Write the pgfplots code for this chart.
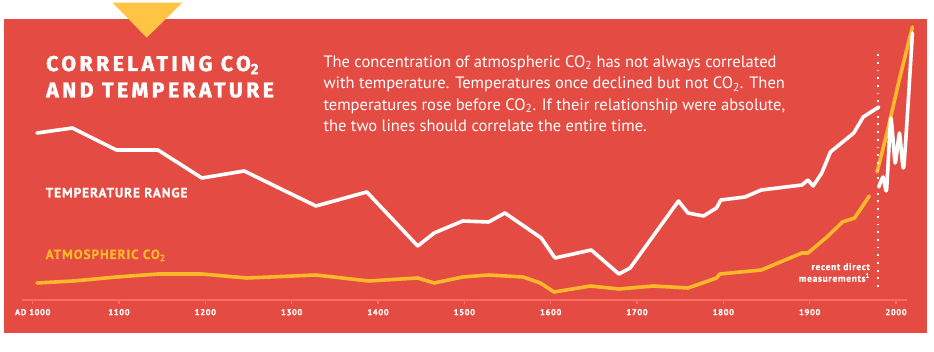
\documentclass[border=0pt]{standalone}
\usepackage{fontspec}
\setmainfont{PT Sans}
\newfontfamily\titlefont{Fira Sans}[LetterSpace=16, FakeBold=1.8]
\newfontfamily\lblfont{PT Sans}[LetterSpace=7, FakeBold=0.8]
\usepackage{pgfplots}
\pgfplotsset{compat=1.18}
\definecolor{bgred}{HTML}{E44C43}
\definecolor{tri}{HTML}{FFC444}
\definecolor{co2}{HTML}{FDB72B}
\definecolor{axred}{HTML}{FF6A62}
\begin{document}
\begin{tikzpicture}[x=1pt,y=1pt]
\fill[white] (0,0) rectangle (934,352);
\fill[bgred] (4,19) rectangle (927,333);
\fill[tri] (112.7,349.3) -- (182.3,349.3) -- (146.7,314.3) -- cycle;
% title
\node[anchor=base west, inner sep=0, text=white, font=\titlefont\bfseries\fontsize{21.3}{26}\selectfont] at (46,281) {CORRELATING CO\textsubscript{2}};
\node[anchor=base west, inner sep=0, text=white, font=\titlefont\bfseries\fontsize{21.3}{26}\selectfont] at (46,254.7) {AND TEMPERATURE};
% body text
\begin{scope}[every node/.style={anchor=base west, inner sep=0, text=white, font=\fontsize{16.5}{21}\selectfont}]
\node at (323.3,284.7) {The concentration of atmospheric CO\textsubscript{2} has not always correlated};
\node at (323.3,263.2) {with temperature. Temperatures once declined but not CO\textsubscript{2}. Then};
\node at (323.3,241.7) {temperatures rose before CO\textsubscript{2}. If their relationship were absolute,};
\node at (323.3,220.2) {the two lines should correlate the entire time.};
\end{scope}
% series labels
\node[anchor=base west, inner sep=0, text=white, font=\lblfont\bfseries\fontsize{13.3}{15}\selectfont] at (45.5,154.7) {TEMPERATURE RANGE};
\node[anchor=base west, inner sep=0, text=co2, font=\lblfont\bfseries\fontsize{13.3}{15}\selectfont] at (45.5,93) {ATMOSPHERIC CO\textsubscript{2}};
\node[anchor=base east, inner sep=0, text=white, font=\lblfont\bfseries\fontsize{9.5}{10}\selectfont] at (870,82) {recent direct};
\node[anchor=base east, inner sep=0, text=white, font=\lblfont\bfseries\fontsize{9.5}{10}\selectfont] at (870,70.3) {measurements\textsuperscript{1}};
\begin{axis}[
  at={(22.34pt,52pt)}, anchor=south west,
  width=884.9pt, height=290pt, scale only axis,
  xmin=988, xmax=2013, ymin=0, ymax=290,
  clip=false, hide y axis,
  axis x line*=bottom,
  x axis line style={axred, line width=1.5pt, -},
  xtick={1000,1100,1200,1300,1400,1500,1600,1700,1800,1900,2000},
  xticklabels={AD 1000,1100,1200,1300,1400,1500,1600,1700,1800,1900,2000},
  /pgf/number format/assume math mode=true,
  tick style={axred, line width=1.5pt},
  major tick length=4.5pt, tick align=outside,
  xticklabel style={text=white, font=\lblfont\bfseries\fontsize{8.6}{10}\selectfont, yshift=-1pt},
]
\addplot[co2, line width=3.6pt, line join=round, line cap=round] coordinates {
(1005,17) (1047,19) (1097,23) (1145,26) (1196,26) (1248,22) (1328,25) (1389,19)
(1446,22) (1465,17) (1498,23) (1528,25) (1568,23) (1588,17) (1604,8) (1646,14)
(1679,11) (1719,14) (1759,12) (1779,18) (1792,22) (1796,26) (1844,30) (1891,47)
(1898,47) (1920,63) (1938,78) (1952,82) (1969,104)};
\addplot[white, line width=3.6pt, line join=round, line cap=round] coordinates {
(1005,167) (1046,172) (1097,150) (1145,150) (1196,122) (1245,129) (1328,94)
(1387,108) (1446,54) (1465,67) (1498,79) (1528,78) (1547,87) (1589,62) (1605,42)
(1647,50) (1679,26) (1692,32) (1748,99) (1759,87) (1777,84) (1792,92) (1797,100)
(1825,103) (1844,110) (1891,115) (1898,120) (1904,114) (1914,127) (1924,148)
(1951,167) (1962,183) (1980,193)};
\addplot[co2, line width=3.6pt, line join=round, line cap=round] coordinates {
(1978,128) (1989,165) (2004,221) (2019,273)};
\addplot[white, line width=3.6pt, line join=round, line cap=round, smooth, tension=0.3] coordinates {
(1980,113) (1985,123) (1989,110) (1994,182) (1999,137) (2004,167) (2009,133) (2019,267)};
\addplot[white, line width=1.8pt, dash pattern=on 1.8pt off 5.9pt] coordinates {
(1979.5,13) (1979.5,247)};
\end{axis}
\end{tikzpicture}
\end{document}
